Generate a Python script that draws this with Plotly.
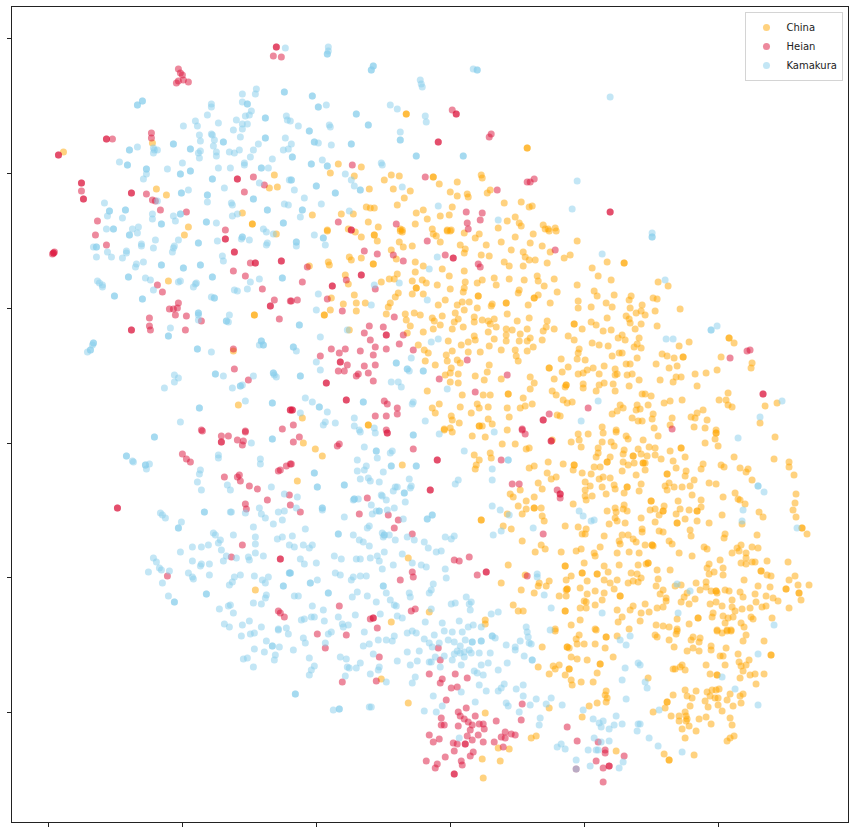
import plotly.graph_objects as go

# Values, in the chart's own (unlabelled) axis units.
tick_x = [48, 182, 316, 450, 584, 718]
tick_y = [38, 173, 308, 443, 577, 712]
categories = ["China", "Heian", "Kamakura"]

# points seen once
china_once = [
(63,152),(152,143),(274,175),(269,188),(277,187),(156,189),(166,195),(242,213),(188,227),
(338,164),(361,167),(330,173),(354,176),(391,175),(399,176),(384,180),(439,184),(481,175),(482,178),(457,182),(369,189),(393,189),(410,191),(450,192),(490,190),(487,193),(457,196),(467,194),(468,197),(404,198),(504,203),(521,202),(529,207),(532,206),(397,205),(366,207),(370,208),(374,208),(452,207),(423,210),(416,213),(440,216),(449,215),(312,215),(341,214),(353,214),(427,219),(368,222),(415,224),(507,221),(515,217),(519,223),(521,226),(543,225),(378,227),(555,228),(545,229),(548,229),(498,228),(400,229),(402,230),(432,229),(447,230),(451,230),(327,230),(348,229),
(184,235),(276,234),(168,281),(233,351),(238,405),
(327,231),(361,237),(377,241),(355,232),(400,231),(402,232),(433,234),(436,236),(447,231),(450,231),(464,233),(479,234),(475,238),(515,237),(533,234),(549,231),(556,231),(399,242),(403,247),(412,246),(440,242),(460,245),(465,249),(464,253),(486,245),(501,242),(530,243),(542,246),(550,252),(511,250),(523,252),(481,255),(489,256),(525,257),(529,260),(535,260),(564,258),(570,255),(391,250),(396,259),(349,257),(351,260),(361,258),(328,262),(329,265),(309,266),(415,262),(423,266),(415,272),(442,269),(449,276),(464,271),(504,262),(509,266),(523,266),(547,263),(345,275),(348,284),(397,274),(389,279),(394,279),(381,282),(412,281),(422,280),(426,283),(437,285),(465,282),(482,280),(477,283),(494,278),(509,279),(496,285),(524,280),(537,276),(538,281),(554,279),(544,286),(450,289),(464,288),(463,292),(519,290),(518,293),(557,292),(398,293),(412,294),(423,294),(395,297),(354,295),(331,298),(445,300),(538,295),(390,303),(356,303),(365,303),(343,304),(462,302),(469,302),(457,305),(438,305),(492,304),(491,306),(528,305),(550,303),(388,307),(477,308),(464,310),(330,310),(356,311),(405,314),(414,313),(386,314),(420,315),(455,313),(507,314),(432,318),(434,321),(442,316),(406,320),(458,319),(454,322),(474,317),(474,322),(482,320),(488,321),(494,319),(490,324),(517,321),(529,318),(547,321),(410,326),(440,325),(433,329),(463,327),(452,329),(496,327),(488,332),(506,329),(512,330),(527,329),(546,327),(543,331),(554,329),(349,330),(407,333),(423,332),(506,335),(520,334),(474,336),(568,336),(494,339),(475,340),(468,342),(448,341),(519,341),(506,341),(530,338),(527,341),(542,340),(418,345),(461,345),(489,346),(533,347),(424,350),(428,353),(452,351),(468,352),(480,352),(501,350),(515,350),(527,351),(446,355),(516,356),(425,361),(447,361),(457,360),(460,363),(518,361),(561,359),(435,365),(451,368),(489,365),(568,367),(450,373),(487,372),(445,375),(458,374),(475,376),(562,372),(530,377),(484,380),(501,379),(554,379),(450,382),(458,383),(534,383),(565,387),(427,391),(530,389),(552,391),(556,395),(462,395),(483,395),(490,395),(523,398),(563,400),(567,403),(439,404),(477,404),(432,408),(460,407),(488,407),(507,408),(525,406),(532,404),(520,408),(479,408),(435,413),(471,413),(451,416),(452,420),(509,417),(557,415),(560,416),(488,419),(302,418),(459,423),(482,426),(492,424),(450,428),(444,429),
(577,241),(607,262),(592,268),(598,276),(611,280),(577,285),(658,282),(668,286),(594,291),(597,296),(614,295),(631,296),(629,300),(653,298),(657,299),(578,301),(606,303),(642,305),(578,308),(591,307),(612,307),(630,308),(641,311),(636,313),(655,311),(680,309),(645,315),(626,316),(629,319),(630,323),(607,318),(591,322),(596,325),(641,324),(657,326),(582,329),(611,330),(603,331),(635,329),(622,335),(618,338),(639,338),(625,340),(574,340),(592,343),(599,345),(608,346),(637,344),(634,347),(641,348),(679,346),(689,342),(734,343),(579,349),(578,353),(619,353),(622,353),(612,356),(662,354),(667,356),(674,358),(637,358),(721,357),(577,359),(585,360),(752,363),(751,368),(626,364),(630,364),(656,364),(604,366),(593,368),(615,369),(669,368),(677,366),(587,370),(583,373),(578,374),(599,374),(617,374),(615,375),(627,375),(632,374),(695,374),(706,373),(717,370),(676,377),(681,377),(639,380),(660,380),(673,382),(583,384),(583,388),(599,385),(604,383),(613,384),(629,386),(697,386),(615,391),(596,391),(642,394),(645,394),(651,396),(728,393),(682,400),(670,401),(664,403),(719,400),(726,400),(572,402),(620,405),(623,408),(637,405),(648,405),(728,405),(732,407),(765,406),(777,403),(617,411),(612,414),(636,410),(640,409),(703,410),(697,413),(653,414),(691,417),(695,418),(632,418),(652,419),(672,418),(707,420),(638,421),(642,421),(760,423),(670,425),(602,427),(654,428),(694,427),(705,428),(616,430),(716,430),
(578,434),(588,434),(603,433),(616,432),(626,436),(628,439),(643,440),(658,436),(715,439),(718,446),(705,443),(775,437),(571,442),(579,440),(581,447),(602,442),(611,442),(598,448),(598,453),(614,446),(624,450),(623,454),(610,457),(596,457),(638,449),(649,447),(655,448),(641,454),(647,456),(655,455),(670,451),(685,457),(661,459),(734,457),(774,459),(789,462),(789,467),(673,461),(703,464),(701,469),(721,465),(724,467),(740,468),(748,469),(746,472),(623,462),(634,463),(628,465),(645,463),(600,467),(594,467),(573,470),(676,468),(645,470),(622,471),(582,473),(591,474),(636,475),(686,471),(685,476),(794,475),(599,479),(603,477),(610,478),(694,480),(752,480),(585,482),(641,484),(669,483),(665,486),(614,485),(590,486),(602,487),(615,489),(674,487),(682,487),(690,486),(709,483),(716,484),(585,490),(606,494),(624,493),(639,491),(667,490),(692,495),(735,493),(796,494),(585,496),(592,496),(586,500),(723,497),(738,499),(740,500),(678,501),(701,500),(745,504),(795,503),(573,504),(624,505),(664,506),(701,507),(615,508),(623,509),(650,510),(655,509),(680,509),(689,510),(607,511),(616,512),(627,511),(793,510),(759,512),(659,515),(676,514),(722,515),(615,518),(617,521),(641,518),(685,519),(697,521),(763,517),(796,517),(609,524),(625,523),(655,522),(709,523),(742,524),(578,527),(586,529),(642,529),(642,532),(659,531),(663,532),(690,530),(582,534),(585,534),(604,536),(622,535),(628,535),(691,536),(725,534),(724,538),(757,535),(807,534),(619,541),(633,539),(669,541),(672,544),(620,544),(636,542),(645,545),(653,546),(600,547),(576,551),(581,549),(704,547),(707,549),(741,545),(737,548),(752,547),(758,548),(739,551),(629,552),(639,553),(679,553),(732,553),(746,553),(594,553),(595,556),(617,553),(692,556),(746,558),(720,560),(584,563),(741,563),(752,562),(755,562),(746,564),(767,561),(788,562),(604,566),(619,565),(638,565),(646,564),(657,570),(670,570),(709,564),(707,568),(723,568),(608,572),(631,573),(637,574),(714,572),(709,574),(723,575),(767,575),(771,576),(795,576),(571,576),(641,578),(658,579),(789,580),(744,580),(587,581),(604,580),(617,580),(610,583),(628,583),(638,582),(633,581),(706,582),(696,583),(656,586),(675,586),(681,585),(706,587),(758,586),(770,587),(798,585),(809,585),(580,588),(614,589),(663,590),(700,590),(711,591),(717,593),(725,590),(729,591),(740,592),(595,591),(587,594),(604,593),(660,594),(687,593),(684,597),(755,594),(743,597),(766,596),(773,598),(666,598),(666,601),(695,599),(602,600),(584,601),(586,602),(681,602),(689,604),(710,604),(716,602),(732,600),(756,602),(778,601),(801,600),(595,605),(645,604),(633,606),(722,606),(732,607),(762,607),(766,606),(580,608),(586,608),(617,610),(630,610),(657,608),(663,607),(742,609),(750,608),(789,608),(641,613),(649,612),(713,613),(735,611),(622,617),(723,616),(712,617),(733,617),(728,618),(751,617),(753,619),(772,618),(677,619),(580,620),(618,622),(640,621),(725,623),(689,624),(741,623),(656,625),(663,626),(669,627),(571,625),(744,627),(595,629),(629,629),(677,629),(717,630),(727,630),(731,630),
(255,590),
(303,443),(315,449),(322,456),(297,481),(402,465),(444,430),(452,432),(472,436),(485,437),(507,430),(552,440),(502,444),(515,444),(526,449),(529,448),(474,455),(490,453),(491,458),(479,460),(476,465),(475,469),(529,468),(534,466),(548,462),(563,464),(547,473),(551,479),(556,477),(538,483),(542,489),(520,490),(510,494),(513,497),(534,497),(526,501),(518,506),(526,509),(541,508),(522,514),(542,516),(544,521),(507,514),(503,526),(511,529),(565,526),(522,541),(541,545),(545,549),(535,552),(561,552),(408,558),(508,565),(525,575),(566,580),(501,583),(539,583),(538,586),(549,581),(546,586),(521,590),(566,590),(534,593),(559,596),(566,596),(513,605),(518,611),(523,611),(429,612),(485,620),(485,624),(391,622),(555,629),
(381,679),(408,703),
(555,631),(596,630),(579,635),(576,639),(577,644),(584,644),(595,644),(617,636),(542,647),(569,648),(605,648),(571,657),(577,659),(587,660),(613,657),(538,667),(553,666),(559,665),(555,669),(597,673),(549,674),(565,675),(571,680),(572,685),(581,682),(593,682),(606,691),(605,695),(607,698),(606,702),(597,703),(589,706),(549,708),(582,717),(485,713),(531,738),(536,736),(498,748),(509,749),(482,759),(500,761),(483,778),(616,751),
(655,635),(657,637),(676,634),(677,631),(669,640),(674,647),(693,637),(691,640),(700,638),(699,642),(693,648),(687,651),(699,651),(711,646),(711,650),(717,631),(722,633),(727,631),(731,631),(746,635),(743,641),(764,641),(726,648),(720,656),(723,656),(738,654),(749,660),(739,662),(741,666),(746,665),(706,665),(725,665),(743,671),(750,675),(755,674),(764,674),(740,678),(756,684),(682,665),(680,667),(673,669),(675,669),(685,670),(710,674),(648,678),(685,690),(696,691),(673,695),(687,696),(692,698),(707,692),(712,690),(716,690),(719,689),(710,696),(715,698),(718,698),(730,694),(740,696),(743,694),(727,700),(741,703),(705,701),(665,708),(690,706),(708,707),(718,705),(733,706),(722,711),(653,712),(685,712),(686,716),(671,716),(679,716),(679,721),(687,719),(686,721),(699,719),(706,717),(730,718),(689,726),(711,724),(732,725),(682,729),(696,731),(734,736),(730,738),(727,741),(685,738),(664,754),(694,755),
]
# points that look darker because two marks sit together
china_twice = [
(252,224),(406,114),(527,148),(433,177),(254,315),(374,235),(373,264),(416,288),(478,296),(534,298),(506,303),(324,315),(549,368),(566,385),(508,394),(479,426),(368,425),
(624,263),(574,324),(729,338),(683,357),(716,433),(681,448),(633,456),(643,463),(607,462),(574,465),(667,474),(627,487),(651,501),(663,511),(697,511),(677,523),(802,528),(652,545),(648,563),(761,571),(582,573),(597,574),(716,591),(786,589),(799,593),(620,596),(698,618),
(534,508),(481,520),(565,566),(567,589),(565,611),(606,637),(567,647),(600,664),(569,669),(771,655),(717,675),(667,702),(669,760),
]

heian_once = [
(273,56),(281,57),(178,69),(180,73),(182,75),(178,81),(183,80),(176,83),(188,82),(151,133),(151,138),(112,139),(253,177),(264,185),(244,192),(81,191),(146,194),(152,200),(155,201),(160,210),(186,212),(97,221),(225,230),
(452,110),(491,134),(489,137),(352,165),(425,177),(534,179),(530,182),(527,182),(497,190),(466,212),(482,213),(338,222),(396,224),(467,223),(480,220),(468,229),
(95,235),(106,245),(250,263),(233,271),(245,276),(262,289),(157,285),(162,292),(274,300),(290,301),(279,319),(52,254),(54,252),(178,303),(169,309),(173,309),(177,308),(175,315),(186,316),(149,318),(149,326),(150,330),(185,330),(201,321),(233,349),(234,369),(248,380),(201,430),(245,431),(282,429),
(427,241),(364,251),(377,254),(445,255),(393,255),(403,261),(555,250),(478,264),(480,267),(307,267),(346,280),(302,282),(375,289),(327,299),(297,300),(291,301),(342,311),(394,317),(369,326),(383,327),(364,333),(403,335),(370,340),(399,344),(375,347),(386,349),(331,349),(345,349),(360,351),(339,353),(413,350),(320,356),(373,355),(467,360),(347,365),(375,365),(364,366),(338,371),(344,371),(368,373),(358,374),(356,376),(373,381),(439,379),(507,375),(475,392),(384,401),(387,404),(397,408),(397,414),(375,416),(386,416),(293,425),(549,414),(522,429),(386,430),
(747,351),(750,350),(730,358),(588,408),(672,429),
(202,431),(245,432),(221,436),(228,436),(237,440),(243,441),(242,445),(182,454),(186,459),(190,462),(280,470),(278,471),(286,466),(290,464),(224,477),(239,475),(237,477),(240,481),(249,486),(257,489),(267,500),(289,495),(290,505),(245,504),(246,509),(242,545),(231,557),(167,576),(278,611),(280,613),(284,617),
(299,437),(293,442),(339,444),(337,446),(522,430),(525,434),(413,449),(501,460),(291,464),(512,484),(519,484),(557,490),(560,498),(367,498),(300,512),(359,514),(388,515),(398,520),(394,528),(412,534),(543,534),(469,557),(454,560),(459,561),(412,572),(413,577),(400,580),(477,575),(527,576),(339,606),(415,609),(411,611),(370,619),(377,628),
(317,634),(346,635),(325,648),(379,657),(429,674),(342,682),(376,681),(429,735),(426,761),
(438,648),(440,660),(455,674),(442,679),(440,683),(467,678),(451,688),(457,687),(446,700),(522,704),(466,708),(458,712),(460,716),(475,716),(464,719),(441,718),(468,722),(472,725),(441,725),(444,725),(458,726),(479,724),(483,724),(496,721),(521,720),(484,729),(470,730),(467,736),(478,735),(567,727),(505,732),(511,734),(515,735),(501,737),(505,738),(439,739),(433,742),(472,740),(453,743),(457,744),(483,742),(494,742),(577,741),(598,742),(503,747),(454,751),(473,752),(470,756),(445,757),(605,750),(605,753),(624,756),(461,761),(462,765),(437,764),(435,768),(596,761),(603,768),(603,782),(576,769),
]
heian_twice = [
(276,47),(106,139),(58,155),(237,179),(81,183),(83,199),(131,193),(456,114),(438,142),(351,230),
(225,239),(234,252),(255,263),(281,261),(270,306),(53,253),(131,330),(290,410),
(453,258),(361,275),(332,286),(386,335),(340,362),(326,383),(346,400),(292,410),(543,420),
(610,212),(763,394),(221,442),(117,508),(280,559),
(387,433),(437,460),(551,441),(560,494),(430,490),(486,572),(373,618),(465,744),(609,766),(454,774),
]

kamakura_once = [
(285,48),(256,89),(255,94),(242,94),(242,102),(211,104),(211,107),(251,111),(207,115),(245,116),(249,115),(236,120),(286,116),(287,120),(195,121),(183,126),(197,126),(218,123),(242,124),(247,124),(233,130),(242,129),(199,135),(211,134),(212,135),(240,137),(285,138),(214,140),(200,141),(258,144),(213,146),(137,147),(153,148),(157,150),(154,150),(153,153),(200,151),(198,153),(216,152),(216,156),(199,158),(229,152),(234,153),(239,150),(253,150),(250,157),(272,159),(283,150),(288,149),(119,162),(182,163),(244,163),(244,165),(167,169),(218,168),(230,168),(268,168),(146,174),(143,179),(259,183),(224,188),(289,180),(188,190),(207,202),(157,201),(104,203),(231,203),(232,205),(284,204),(288,205),(152,214),(173,216),(107,216),(122,218),(152,219),(175,221),(232,216),(237,214),(216,223),(138,227),(106,229),(132,229),(263,229),
(328,47),(328,51),(473,69),(420,80),(421,84),(422,87),(326,105),(390,105),(397,109),(425,116),(426,122),(298,126),(329,125),(330,127),(400,132),(318,143),(331,145),(322,160),(381,163),(382,165),(345,174),(351,180),(354,186),(402,187),(294,190),(304,198),(321,204),(438,206),(349,211),(300,217),(498,220),(290,121),(291,144),
(610,97),(577,181),(572,209),
(137,233),(93,247),(107,252),(96,257),(111,257),(122,258),(126,251),(126,253),(141,244),(141,246),(155,240),(153,248),(143,262),(136,264),(135,267),(178,240),(174,246),(173,248),(172,252),(217,241),(241,239),(249,240),(267,243),(266,245),(266,232),(273,234),(222,256),(223,261),(145,278),(150,280),(153,290),(178,282),(180,281),(196,283),(195,284),(193,287),(250,282),(259,279),(234,290),(237,291),(247,289),(97,281),(99,283),(102,285),(102,287),(211,297),(198,315),(198,320),(229,315),(228,322),(170,328),(92,345),(87,352),(211,352),(259,345),(174,375),(178,378),(174,382),(164,388),(223,376),(253,376),(232,388),(242,385),(274,375),(276,377),(245,401),(180,422),
(314,235),(296,246),(325,245),(437,257),(429,269),(399,283),(374,285),(318,294),(427,300),(316,310),(371,305),(347,330),(320,337),(438,339),(431,342),(296,351),(316,362),(411,358),(409,371),(320,370),(391,382),(398,382),(401,387),(447,389),(305,398),(312,402),(327,412),(413,402),(412,404),(300,413),(354,418),(335,423),(325,422),(323,425),(354,426),(374,428),(425,421),(359,430),
(652,233),(602,254),(665,280),(717,326),(666,339),(673,339),(598,401),(782,401),(760,417),(581,421),
(738,438),(579,511),(583,516),(591,521),(594,520),(743,510),(742,521),(764,492),(797,528),(677,584),(690,591),(602,613),(678,613),(774,625),
(251,443),(132,461),(133,462),(149,464),(146,469),(218,455),(218,458),(260,459),(260,464),(200,470),(199,474),(197,482),(201,490),(227,485),(230,490),(271,487),(284,494),(160,513),(162,515),(165,518),(181,522),(230,512),(231,512),(245,513),(259,508),(261,514),(265,518),(278,512),(284,511),(282,520),(273,524),(253,527),(213,533),(215,535),(220,540),(218,543),(233,535),(255,537),(277,539),(282,537),(289,545),(192,547),(201,547),(208,545),(221,550),(255,544),(180,552),(255,553),(226,556),(236,558),(263,556),(248,557),(249,560),(153,558),(156,562),(192,561),(223,561),(201,564),(200,566),(209,564),(159,568),(161,570),(169,571),(148,572),(188,573),(192,577),(193,579),(209,575),(162,583),(234,577),(240,575),(254,576),(262,580),(268,577),(232,582),(229,585),(265,583),(168,596),(266,595),(265,598),(253,603),(261,604),(230,605),(228,606),(219,609),(233,613),(224,624),(242,625),(249,621),(229,627),(261,627),(278,629),(286,628),
(360,432),(375,433),(439,434),(494,432),(364,447),(392,451),(390,453),(377,458),(464,451),(357,460),(366,466),(357,471),(364,470),(383,472),(492,469),(360,479),(368,478),(370,481),(379,482),(409,479),(458,480),(455,484),(492,480),(395,487),(397,487),(411,486),(410,488),(393,491),(297,497),(381,495),(382,496),(353,500),(358,499),(386,500),(405,502),(371,505),(394,508),(296,508),(322,510),(492,506),(500,510),(387,510),(376,511),(372,514),(509,515),(344,517),(403,519),(305,529),(369,526),(367,528),(533,528),(292,536),(353,535),(382,533),(383,537),(389,535),(407,537),(414,540),(445,537),(454,536),(451,539),(359,540),(363,542),(395,540),(424,542),(369,546),(493,535),(501,531),(303,545),(312,545),(309,548),(294,547),(428,548),(384,552),(441,551),(436,552),(402,554),(334,556),(370,558),(356,559),(360,559),(377,556),(379,561),(341,559),(300,559),(412,563),(304,564),(316,563),(393,565),(421,565),(426,567),(382,569),(445,569),(335,573),(340,575),(353,577),(360,576),(366,576),(446,578),(351,580),(317,580),(433,584),(537,574),(537,577),(431,590),(429,593),(409,593),(410,597),(386,593),(357,592),(352,597),(367,596),(294,596),(298,596),(390,600),(376,602),(394,605),(396,606),(544,595),(466,597),(471,602),(469,604),(455,603),(451,604),(312,606),(431,609),(470,610),(551,608),(323,610),(380,614),(355,615),(397,616),(402,618),(491,614),(498,612),(304,619),(301,620),(311,617),(314,617),(338,617),(324,621),(425,622),(442,623),(459,621),(342,624),(348,625),(343,627),(468,627),(473,625),(481,627),(526,627),
(241,636),(250,634),(254,633),(278,630),(288,634),(303,638),(305,643),(328,634),(331,632),(325,643),(364,632),(378,640),(386,640),(392,641),(394,636),(407,633),(412,631),(416,633),(424,639),(429,643),(369,644),(363,646),(266,641),(279,647),(293,650),(254,649),(264,652),(275,655),(274,660),(243,659),(247,658),(253,667),(309,658),(340,657),(346,659),(373,654),(407,652),(419,651),(397,661),(417,661),(429,662),(410,665),(314,666),(311,670),(309,675),(347,667),(349,668),(356,668),(360,663),(379,667),(378,670),(370,674),(345,676),(386,682),(415,677),(412,683),(333,710),(369,707),(371,707),(424,711),
(434,635),(444,631),(452,632),(462,632),(432,647),(439,643),(448,640),(454,642),(465,640),(460,646),(495,638),(506,645),(515,647),(515,650),(520,641),(527,632),(528,637),(529,643),(531,644),(550,630),(457,651),(454,654),(460,653),(464,652),(469,650),(471,653),(479,653),(490,653),(435,657),(444,656),(464,657),(452,660),(431,662),(524,656),(440,667),(461,665),(481,665),(488,663),(507,663),(498,670),(474,671),(477,673),(483,675),(479,685),(504,684),(501,688),(498,691),(486,691),(461,692),(516,689),(523,685),(523,696),(433,696),(475,702),(506,703),(508,706),(442,706),(436,712),(530,705),(536,699),(546,704),(551,698),(562,705),(626,699),(519,712),(583,710),(540,718),(539,725),(593,719),(603,721),(599,723),(601,727),(616,716),(614,725),(622,724),(609,729),(459,738),(594,738),(601,742),(609,741),(557,747),(561,744),(565,749),(588,750),(596,750),(598,750),(576,760),(590,766),(623,762),(619,768),(576,769),(622,680),(625,668),(626,645),(620,640),
(630,636),(638,663),(640,665),(758,654),(722,677),(645,682),(647,688),(735,689),(758,705),(659,710),(638,724),(640,724),(637,731),(649,738),(658,746),(682,752),
]
kamakura_twice = [
(137,105),(142,101),(284,92),(247,104),(265,118),(265,138),(223,142),(173,144),(129,150),(190,149),(127,165),(146,169),(261,168),(190,171),(180,174),(212,179),(181,193),(207,195),(253,199),(109,211),(125,210),(267,210),(180,214),(161,224),(206,222),(283,223),(113,229),
(327,54),(373,66),(371,70),(477,70),(312,96),(318,107),(356,114),(368,125),(309,131),(400,140),(314,142),(351,144),(292,157),(416,156),(463,156),(311,164),(327,166),(291,180),(316,186),(360,190),(335,193),(302,210),
(129,235),(96,247),(161,265),(198,243),(242,237),(183,268),(200,265),(128,277),(212,277),(282,278),(114,296),(142,299),(214,298),(198,313),(226,321),(168,336),(93,343),(90,350),(197,349),(261,341),(263,345),(215,374),(240,386),(273,373),(272,403),(199,408),
(323,238),(296,242),(299,325),(293,347),(396,363),(407,369),(423,371),(300,376),(319,407),(363,402),
(652,237),(711,330),(758,486),
(154,437),(272,439),(126,456),(145,465),(178,528),(204,512),(289,573),(283,586),(206,594),(174,602),
(413,435),(376,451),(508,460),(391,466),(416,466),(314,473),(344,485),(317,487),(404,493),(354,499),(322,508),(379,511),(432,515),(427,519),(338,534),(384,535),(290,573),(310,583),(383,586),(328,593),
(272,646),(295,694),(339,709),(472,642),(481,641),(492,636),(532,660),
]

colors = {"China": "orange", "Heian": "crimson", "Kamakura": "skyblue"}
groups = {
    "China": (china_once, china_twice),
    "Heian": (heian_once, heian_twice),
    "Kamakura": (kamakura_once, kamakura_twice),
}

fig = go.Figure()
for name in categories:
    once, twice = groups[name]
    pts = once + twice + twice
    fig.add_trace(go.Scatter(
        x=[p[0] for p in pts], y=[p[1] for p in pts], mode="markers", name=name,
        marker=dict(color=colors[name], size=7, opacity=0.5, line=dict(width=0)),
        hoverinfo="skip",
    ))

axis = dict(showgrid=False, zeroline=False, showline=True, mirror=True, linecolor="#222222",
            linewidth=1, ticks="outside", ticklen=4, tickwidth=1, tickcolor="#222222",
            showticklabels=False)
fig.update_layout(
    width=854, height=833, autosize=False, paper_bgcolor="white", plot_bgcolor="white",
    margin=dict(l=11.5, r=6, t=7, b=11),
    font=dict(family="DejaVu Sans", size=10, color="#222222"),
    xaxis=dict(range=[11.5, 848], tickmode="array", tickvals=tick_x, **axis),
    yaxis=dict(range=[822, 7], tickmode="array", tickvals=tick_y, **axis),
    legend=dict(x=0.9946, y=0.9939, xanchor="right", yanchor="top", bgcolor="rgba(255,255,255,0.8)",
                bordercolor="#d4d4d4", borderwidth=1, font=dict(size=10, family="DejaVu Sans"),
                itemsizing="trace", itemwidth=30),
)
fig.write_html("out.html", config={"displayModeBar": False},
               post_script="document.body.style.margin='0';")
